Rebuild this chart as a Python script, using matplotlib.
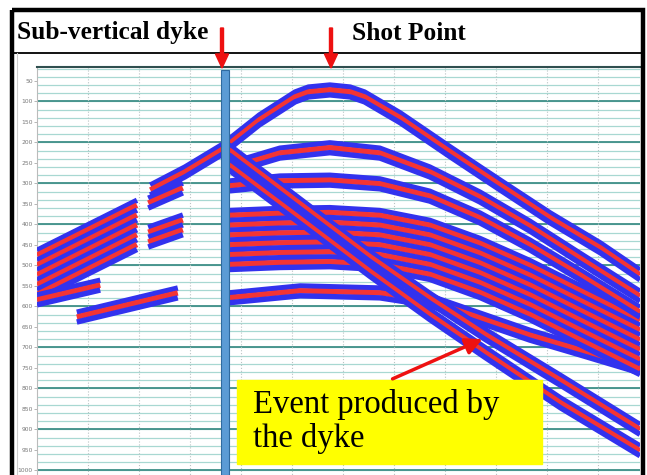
import numpy as np
import matplotlib.pyplot as plt
from matplotlib.patches import Rectangle, FancyArrow

# shot gather: offset (m) on x, two-way time (ms) on y, read along the middle of each event
top_x = [111, 145, 181, 218, 253, 266, 287, 307, 321, 356, 405, 454, 503, 552, 591]
top_t = [316, 272, 218, 145, 89, 77, 72, 77, 89, 140, 223, 304, 384, 457, 523]

b_x = [199, 238, 287, 336, 385, 434, 483, 532, 591]
b_t = [255, 226, 213, 226, 272, 333, 404, 482, 575]

c_x = [189, 238, 287, 336, 385, 434, 483, 532, 591]
c_t = [306, 294, 292, 301, 331, 384, 450, 523, 614]

d_x = [188, 238, 287, 336, 385, 434, 483, 532, 591]
d_t = [438, 433, 431, 438, 462, 506, 560, 621, 694]

e_x = [188, 258, 336, 385, 434, 483, 532, 591]
e_t = [579, 562, 567, 586, 628, 670, 706, 750]

# reflections off the dyke
diag1_x = [188, 258, 326, 385, 439, 513, 591]
diag1_t = [218, 350, 478, 580, 668, 780, 900]
diag2_x = [188, 258, 326, 385, 439, 513, 591]
diag2_t = [255, 386, 514, 620, 712, 835, 952]

# left of the dyke
l1_x = [0, 98]
l1_t = [523, 401]
l2_x = [0, 62]
l2_t = [584, 548]
l3_x = [39, 138]
l3_t = [626, 567]
s1_x = [109, 143]
s1_t = [348, 311]
s2_x = [109, 143]
s2_t = [431, 401]

events = [(l1_x, l1_t), (l2_x, l2_t), (l3_x, l3_t), (s1_x, s1_t), (s2_x, s2_t),
          (e_x, e_t), (d_x, d_t), (c_x, c_t), (b_x, b_t), (top_x, top_t),
          (diag1_x, diag1_t), (diag2_x, diag2_t)]
stripes = [11, 3, 3, 3, 5, 3, 13, 3, 3, 3, 3, 3]

dyke_x = 184
dyke_top = 23
y_ticks = list(range(50, 1001, 50))

fig = plt.figure(figsize=(6.47, 4.75), dpi=100)
ax = fig.add_axes([37 / 647, 0, 603 / 647, 408 / 475])
ax.set_xlim(0, 591)
ax.set_ylim(1011, 16)

# grid like the original software display
ax.hlines(np.arange(20, 1011, 20), 0, 591, color='#a8d8d2', lw=0.9, zorder=1)
ax.hlines(np.arange(100, 1011, 100), 0, 591, color='#3f8f88', lw=1.3, zorder=1)
ax.vlines(np.arange(50, 591, 50), 16, 1011, color='#b8c4c4', lw=0.8, linestyles=':', zorder=1)

spacing = 12
for (x, t), n in zip(events, stripes):
    t = np.array(t, dtype=float)
    for k in range(n):
        off = (k - (n - 1) / 2) * spacing
        col = '#3232ee' if k % 2 == 0 else '#f43434'
        ax.plot(x, t + off, color=col, lw=3.9, solid_capstyle='butt',
                solid_joinstyle='round', zorder=3)

ax.bar(dyke_x, 1011 - dyke_top, width=8, bottom=dyke_top, color='#5b9bd5',
       edgecolor='#2f6aa0', lw=0.8, zorder=5)

ax.set_yticks(y_ticks)
ax.set_yticklabels([str(v) for v in y_ticks], fontsize=4.3, color='#777777')
ax.tick_params(axis='y', length=2, width=0.5, color='#999999', pad=1)
ax.set_xticks([])
for s in ['right', 'bottom']:
    ax.spines[s].set_visible(False)
ax.spines['left'].set_color('#bbbbbb')
ax.spines['top'].set_color('#2f4f4f')
ax.spines['top'].set_linewidth(1.5)

# annotation layer in pixel coordinates
ov = fig.add_axes([0, 0, 1, 1], facecolor='none')
ov.set_xlim(0, 647)
ov.set_ylim(475, 0)
ov.axis('off')
ov.add_patch(Rectangle((12, 10), 631, 480, fill=False, ec='black', lw=3.2))
ov.plot([14, 642], [53, 53], color='black', lw=1.3)
ov.plot([17, 17], [53, 475], color='#cccccc', lw=0.8)

ov.text(17, 33, 'Sub-vertical dyke', fontsize=18.3, fontweight='bold',
        family='Liberation Serif', va='center', ha='left')
ov.text(352, 33, 'Shot Point', fontsize=18.3, fontweight='bold',
        family='Liberation Serif', va='center', ha='left')
for ax_px in [222, 331]:
    ov.add_patch(FancyArrow(ax_px, 28, 0, 40, width=3, head_width=13, head_length=14,
                            length_includes_head=True, color='#ee1111', zorder=6))

ov.add_patch(Rectangle((237, 380), 305, 84, color='#ffff00', zorder=6))
ov.text(253, 405, 'Event produced by', fontsize=23.5, family='Liberation Serif',
        va='center', ha='left', zorder=7)
ov.text(253, 439, 'the dyke', fontsize=23.5, family='Liberation Serif',
        va='center', ha='left', zorder=7)
ov.annotate('', xy=(485, 338), xytext=(390, 380),
            arrowprops=dict(arrowstyle='-|>,head_width=0.5,head_length=1.0',
                            color='#ee1111', lw=2.5), zorder=7)

fig.savefig('out.png', dpi=100)
